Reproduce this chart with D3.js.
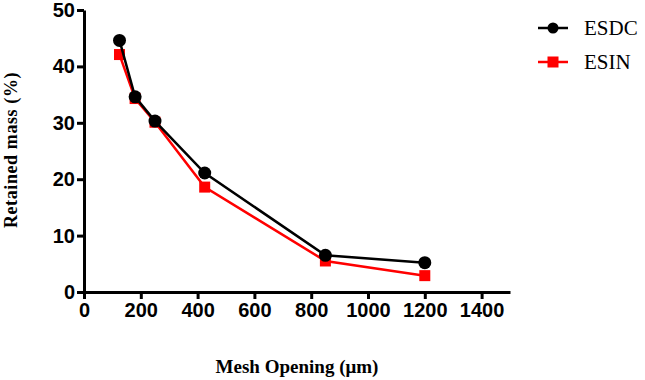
<!DOCTYPE html>
<html>
<head>
<meta charset="utf-8">
<script src="https://cdn.jsdelivr.net/npm/d3@7"></script>
<style>
  body { margin: 0; background: #fff; }
  .axis path, .axis line { stroke: #000; stroke-width: 3px; }
  .axis text { font-family: "Liberation Sans", Arial, sans-serif; font-weight: bold; font-size: 20px; fill: #000; }
  .title { font-family: "Liberation Serif", "Times New Roman", serif; font-weight: bold; font-size: 19px; }
  .legend text { font-family: "Liberation Serif", "Times New Roman", serif; font-size: 21px; }
</style>
</head>
<body>
<script>
// mesh openings (µm)
const mesh = [125, 180, 250, 425, 850, 1200];
const esdc = [44.6, 34.6, 30.3, 21.1, 6.5, 5.2];
const esin = [42.1, 34.3, 30.1, 18.6, 5.5, 2.9];
const xTicks = [0, 200, 400, 600, 800, 1000, 1200, 1400];
const yTicks = [0, 10, 20, 30, 40, 50];

const width = 645, height = 380;
const svg = d3.select('body').append('svg')
  .attr('width', width).attr('height', height);

const x = d3.scaleLinear().domain([0, 1500]).range([84, 510]);
const y = d3.scaleLinear().domain([0, 50]).range([292, 10]);

svg.append('g').attr('class', 'axis')
  .attr('transform', 'translate(0,292)')
  .call(d3.axisBottom(x).tickValues(xTicks).tickFormat(d3.format('d'))
    .tickSize(7).tickPadding(4).tickSizeOuter(0));

svg.append('g').attr('class', 'axis')
  .attr('transform', 'translate(84,0)')
  .call(d3.axisLeft(y).tickValues(yTicks).tickSize(7).tickPadding(2).tickSizeOuter(0));

const series = [
  { name: 'ESDC', values: esdc, color: '#000', shape: 'circle' },
  { name: 'ESIN', values: esin, color: '#f00', shape: 'square' }
];

const line = d3.line().x(d => x(d[0])).y(d => y(d[1]));

// ESIN first so ESDC sits on top
series.slice().reverse().forEach(s => {
  const pts = mesh.map((m, i) => [m, s.values[i]]);
  svg.append('path').attr('d', line(pts))
    .attr('fill', 'none').attr('stroke', s.color).attr('stroke-width', 2.5);
  if (s.shape === 'circle') {
    svg.selectAll(null).data(pts).join('circle')
      .attr('cx', d => x(d[0])).attr('cy', d => y(d[1])).attr('r', 6.5)
      .attr('fill', s.color);
  } else {
    svg.selectAll(null).data(pts).join('rect')
      .attr('x', d => x(d[0]) - 5.5).attr('y', d => y(d[1]) - 5.5)
      .attr('width', 11).attr('height', 11).attr('fill', s.color);
  }
});

// legend
const lg = svg.append('g').attr('class', 'legend');
series.forEach((s, i) => {
  const ly = 28 + i * 34;
  lg.append('line').attr('x1', 538).attr('x2', 568).attr('y1', ly).attr('y2', ly)
    .attr('stroke', s.color).attr('stroke-width', 2.5);
  if (s.shape === 'circle') {
    lg.append('circle').attr('cx', 553).attr('cy', ly).attr('r', 5.5).attr('fill', s.color);
  } else {
    lg.append('rect').attr('x', 547.5).attr('y', ly - 5.5).attr('width', 11).attr('height', 11).attr('fill', s.color);
  }
  lg.append('text').attr('x', 584).attr('y', ly + 7).text(s.name);
});

// axis titles
svg.append('text').attr('class', 'title')
  .attr('x', 297).attr('y', 373).attr('text-anchor', 'middle')
  .text('Mesh Opening (\u03bcm)');
svg.append('text').attr('class', 'title')
  .attr('transform', 'translate(17,150) rotate(-90)')
  .attr('text-anchor', 'middle')
  .style('font-size', '18px')
  .style('letter-spacing', '0.6px')
  .text('Retained mass (%)');
</script>
</body>
</html>
